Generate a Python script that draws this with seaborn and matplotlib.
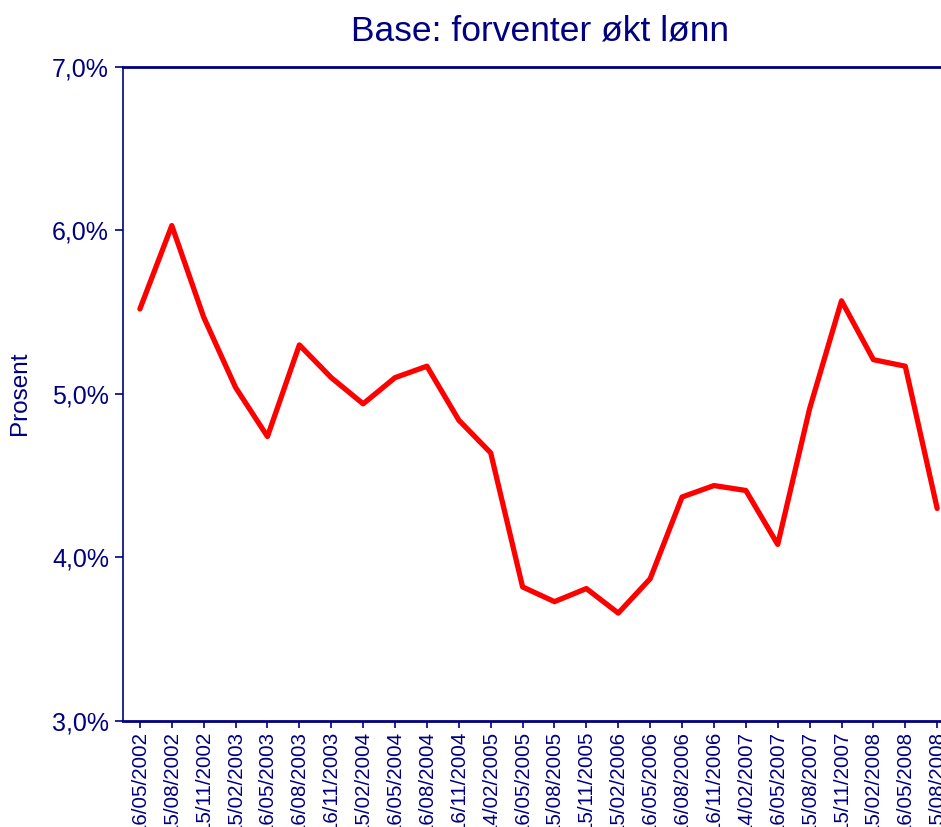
import matplotlib
matplotlib.use("Agg")
import matplotlib.pyplot as plt
import seaborn as sns
import pandas as pd
from matplotlib.ticker import FuncFormatter, FixedLocator

dates = ["16/05/2002", "15/08/2002", "15/11/2002", "15/02/2003", "16/05/2003",
         "16/08/2003", "16/11/2003", "15/02/2004", "16/05/2004", "16/08/2004",
         "16/11/2004", "14/02/2005", "16/05/2005", "15/08/2005", "15/11/2005",
         "15/02/2006", "16/05/2006", "16/08/2006", "16/11/2006", "14/02/2007",
         "16/05/2007", "15/08/2007", "15/11/2007", "15/02/2008", "16/05/2008",
         "15/08/2008"]
values = [5.52, 6.03, 5.47, 5.04, 4.74, 5.30, 5.10, 4.94, 5.10, 5.17,
          4.84, 4.64, 3.82, 3.73, 3.81, 3.66, 3.87, 4.37, 4.44, 4.41,
          4.08, 4.91, 5.57, 5.21, 5.17, 4.30]
y_ticks = [3.0, 4.0, 5.0, 6.0, 7.0]

sns.set_style("white")
plt.rcParams['font.family'] = ['Liberation Sans', 'DejaVu Sans']

navy = "#000080"
df = pd.DataFrame({"pos": range(len(dates)), "value": values})

fig = plt.figure(figsize=(9.41, 8.27), dpi=100)
ax = fig.add_axes([123/941, 1 - 721/827, 1 - 123/941, (721 - 67)/827])

sns.lineplot(data=df, x="pos", y="value", ax=ax, color="#ff0000", linewidth=3.8)

ax.set_xlim(-0.53, 25.12)
ax.set_ylim(3.0, 7.0)
ax.yaxis.set_major_locator(FixedLocator(y_ticks))
ax.yaxis.set_major_formatter(FuncFormatter(lambda v, p: f"{v:.1f}%".replace(".", ",")))
ax.set_xticks(range(len(dates)))
ax.set_xticklabels(dates, rotation=90, fontsize=14.8, color=navy)
ax.tick_params(axis="y", labelsize=18, labelcolor=navy, color=navy,
               direction="out", length=6, width=1.2, left=True, pad=4)
ax.tick_params(axis="x", color=navy, direction="out", length=5, width=1.2,
               bottom=True, pad=2)

for side in ["left", "top", "bottom"]:
    ax.spines[side].set_visible(True)
    ax.spines[side].set_color(navy)
ax.spines["left"].set_linewidth(1.2)
ax.spines["top"].set_linewidth(2)
ax.spines["bottom"].set_linewidth(2)
ax.spines["right"].set_visible(False)

ax.set_xlabel("")
ax.set_ylabel("")
fig.text(20/941, 1 - 393/827, "Prosent", rotation=90, fontsize=17.5, color=navy,
         ha="center", va="center")
fig.text(540/941, 1 - 31/827, "Base: forventer økt lønn",
         fontsize=25.5, color=navy, ha="center", va="center")

fig.savefig("out.png", dpi=100)
